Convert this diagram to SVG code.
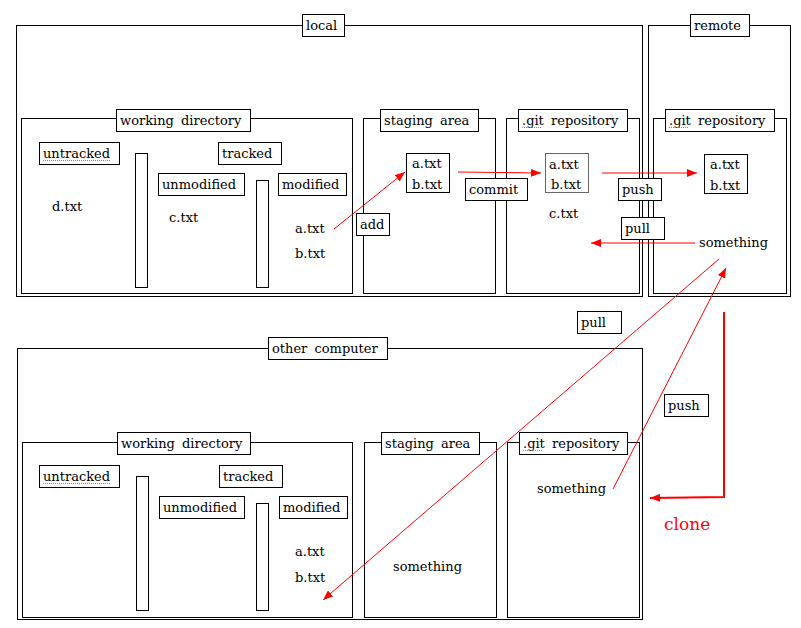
<svg xmlns="http://www.w3.org/2000/svg" width="801" height="628" viewBox="0 0 801 628">
<defs>
<style>
.box{fill:none;stroke:#000;stroke-width:1}
.lbl{fill:#fff;stroke:#000;stroke-width:1}
.bar{fill:#fff;stroke:#000;stroke-width:1}
text{font-family:"DejaVu Serif","Liberation Serif",serif;font-size:13px;fill:#000;word-spacing:3px}
.con{stroke:#f00;stroke-width:1;fill:none}
.sp{stroke:#e07000;stroke-width:1;stroke-dasharray:1 1;fill:none}
</style>
<marker id="ah" viewBox="0 0 10 8" refX="10" refY="4" markerWidth="10" markerHeight="8" markerUnits="userSpaceOnUse" orient="auto"><path d="M0,0 L10,4 L0,8 z" fill="#f00"/></marker>
</defs>
<rect width="801" height="628" fill="#fff"/>

<g id="local">
<rect class="box" x="16.5" y="25.5" width="626" height="271"/>
<rect class="lbl" x="302.5" y="14.5" width="42" height="22"/>
<text x="306" y="30">local</text>
</g>
<g id="remote">
<rect class="box" x="648.5" y="25.5" width="142" height="271"/>
<rect class="lbl" x="690.5" y="14.5" width="59" height="22"/>
<text x="694" y="30">remote</text>
</g>

<g id="local-working-directory">
<rect class="box" x="21.5" y="118.5" width="331" height="175"/>
<rect class="lbl" x="116.5" y="109.5" width="134" height="22"/>
<text x="120" y="125">working directory</text>
<rect class="lbl" x="39.5" y="142.5" width="80" height="22"/>
<text x="43" y="158">untracked</text>
<line class="sp" x1="43" y1="160.5" x2="111" y2="160.5"/>
<rect class="bar" x="135.5" y="153.5" width="12" height="134"/>
<rect class="lbl" x="218.5" y="142.5" width="63" height="22"/>
<text x="222" y="158">tracked</text>
<rect class="lbl" x="158.5" y="173.5" width="86" height="22"/>
<text x="162" y="189">unmodified</text>
<rect class="bar" x="256.5" y="180.5" width="12" height="107"/>
<rect class="lbl" x="278.5" y="173.5" width="68" height="22"/>
<text x="282" y="189">modified</text>
<text x="52" y="211">d.txt</text>
<text x="169" y="222">c.txt</text>
<text x="295" y="233">a.txt</text>
<text x="295" y="258">b.txt</text>
</g>

<g id="local-staging-area">
<rect class="box" x="363.5" y="118.5" width="132" height="175"/>
<rect class="lbl" x="380.5" y="109.5" width="98" height="22"/>
<text x="384" y="125">staging area</text>
<rect class="lbl" x="406.5" y="153.5" width="43" height="39"/>
<text x="412" y="168">a.txt</text>
<text x="412" y="189">b.txt</text>
</g>

<g id="local-git-repository">
<rect class="box" x="506.5" y="118.5" width="133" height="175"/>
<rect class="lbl" x="518.5" y="109.5" width="109" height="22"/>
<text x="522" y="125">.git repository</text>
<line class="sp" x1="522" y1="127.5" x2="541" y2="127.5"/>
<rect class="lbl" x="545.5" y="153.5" width="43" height="39" style="stroke:#666"/>
<text x="549" y="169">a.txt</text>
<text x="551" y="189">b.txt</text>
<text x="549" y="218">c.txt</text>
</g>

<g id="remote-git-repository">
<rect class="box" x="653.5" y="118.5" width="133" height="175"/>
<rect class="lbl" x="665.5" y="109.5" width="109" height="22"/>
<text x="669" y="125">.git repository</text>
<line class="sp" x1="669" y1="127.5" x2="688" y2="127.5"/>
<rect class="lbl" x="704.5" y="154.5" width="43" height="39"/>
<text x="710" y="169">a.txt</text>
<text x="710" y="190">b.txt</text>
<text x="699" y="247">something</text>
</g>

<g id="other-computer">
<rect class="box" x="17.5" y="348.5" width="625" height="271"/>
<rect class="lbl" x="268.5" y="337.5" width="119" height="22"/>
<text x="272" y="353">other computer</text>
</g>

<g id="other-working-directory">
<rect class="box" x="22.5" y="442.5" width="330" height="175"/>
<rect class="lbl" x="117.5" y="432.5" width="133" height="22"/>
<text x="121" y="448">working directory</text>
<rect class="lbl" x="39.5" y="465.5" width="80" height="22"/>
<text x="43" y="481">untracked</text>
<line class="sp" x1="43" y1="483.5" x2="111" y2="483.5"/>
<rect class="bar" x="136.5" y="476.5" width="12" height="134"/>
<rect class="lbl" x="219.5" y="465.5" width="63" height="22"/>
<text x="223" y="481">tracked</text>
<rect class="lbl" x="159.5" y="496.5" width="85" height="22"/>
<text x="163" y="512">unmodified</text>
<rect class="bar" x="256.5" y="503.5" width="12" height="107"/>
<rect class="lbl" x="279.5" y="496.5" width="68" height="22"/>
<text x="283" y="512">modified</text>
<text x="295" y="556">a.txt</text>
<text x="295" y="582">b.txt</text>
</g>

<g id="other-staging-area">
<rect class="box" x="364.5" y="442.5" width="132" height="175"/>
<rect class="lbl" x="381.5" y="432.5" width="98" height="22"/>
<text x="385" y="448">staging area</text>
<text x="393" y="571">something</text>
</g>

<g id="other-git-repository">
<rect class="box" x="507.5" y="442.5" width="132" height="175"/>
<rect class="lbl" x="519.5" y="432.5" width="108" height="22"/>
<text x="523" y="448">.git repository</text>
<line class="sp" x1="523" y1="450.5" x2="542" y2="450.5"/>
<text x="537" y="493">something</text>
</g>

<g id="connectors">
<line class="con" x1="334" y1="229" x2="405" y2="172" marker-end="url(#ah)"/>
<line class="con" x1="458" y1="172" x2="541" y2="173" marker-end="url(#ah)"/>
<line class="con" x1="602" y1="173" x2="697" y2="173" marker-end="url(#ah)"/>
<line class="con" x1="695" y1="243" x2="591" y2="243" marker-end="url(#ah)"/>
<line class="con" x1="719" y1="259" x2="323" y2="600" marker-end="url(#ah)"/>
<line class="con" x1="613" y1="489" x2="726" y2="268" marker-end="url(#ah)"/>
<polyline class="con" style="stroke-width:2" points="724,312 724,497 650,498" marker-end="url(#ah)"/>
<rect class="lbl" x="356.5" y="213.5" width="33" height="22"/>
<text x="360" y="229">add</text>
<rect class="lbl" x="465.5" y="178.5" width="62" height="22"/>
<text x="469" y="194">commit</text>
<rect class="lbl" x="618.5" y="178.5" width="43" height="22"/>
<text x="622" y="194">push</text>
<rect class="lbl" x="621.5" y="217.5" width="43" height="22"/>
<text x="625" y="233">pull</text>
<rect class="lbl" x="577.5" y="311.5" width="44" height="22"/>
<text x="581" y="327">pull</text>
<rect class="lbl" x="664.5" y="394.5" width="44" height="22"/>
<text x="668" y="410">push</text>
<text x="664" y="530" style="fill:#f00;font-size:17px">clone</text>
</g>
</svg>
